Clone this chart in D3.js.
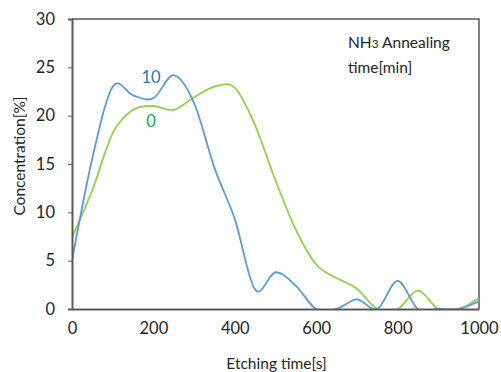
<!DOCTYPE html>
<html>
<head>
<meta charset="utf-8">
<script src="https://cdn.jsdelivr.net/npm/d3@7"></script>
<style>
  body { margin: 0; background: #fff; }
  text { font-family: Lato, "Open Sans", sans-serif; fill: #262626; }
</style>
</head>
<body>
<div id="chart"></div>
<script>
// etching time (s) and concentration (%)
var etchTime = [0, 50, 100, 150, 200, 250, 300, 350, 400, 450, 500,
                550, 600, 650, 700, 750, 800, 850, 900, 950, 1000];
var anneal10 = [5.0, 15.6, 23.0, 22.1, 21.8, 24.2, 21.3, 14.6, 9.3, 2.0, 3.8,
                2.4, 0, 0, 1.0, 0, 2.9, 0, 0, 0, 0.8];
var anneal0  = [7.4, 12.3, 18.2, 20.6, 21.0, 20.6, 21.9, 23.0, 22.9, 19.0, 13.3,
                8.2, 4.6, 3.2, 2.1, 0, 0, 1.9, 0, 0, 1.15];
var xTicks = [0, 200, 400, 600, 800, 1000];
var yTicks = [0, 5, 10, 15, 20, 25, 30];

function setup() {
    var margin = {top: 19, right: 22, bottom: 63, left: 72},
        width = 501 - margin.left - margin.right,
        height = 372 - margin.top - margin.bottom;

    var x = d3.scaleLinear().domain([0, 1000]).range([0, width]);
    var y = d3.scaleLinear().domain([0, 30]).range([height, 0]);

    var svg = d3.select("#chart").append("svg")
        .attr("width", 501)
        .attr("height", 372)
      .append("g")
        .attr("transform", "translate(" + margin.left + "," + margin.top + ")");

    svg.append("clipPath").attr("id", "plot")
      .append("rect").attr("width", width).attr("height", height);

    // frame (top and right)
    svg.append("path")
        .attr("d", "M0,0H" + width + "V" + height)
        .attr("fill", "none")
        .attr("stroke", "#595959")
        .attr("stroke-width", 1.5);

    var line = d3.line()
        .x(function(d) { return x(d[0]); })
        .y(function(d) { return y(d[1]); })
        .curve(d3.curveCatmullRom.alpha(0));

    var series = [
        {values: anneal0, color: "#92d050"},
        {values: anneal10, color: "#5b9bd5"}
    ];
    series.forEach(function(s) {
        svg.append("path")
            .datum(etchTime.map(function(t, i) { return [t, s.values[i]]; }))
            .attr("clip-path", "url(#plot)")
            .attr("fill", "none")
            .attr("stroke", s.color)
            .attr("stroke-width", 1.8)
            .attr("d", line);
    });

    // x axis
    var xAxis = svg.append("g")
        .attr("transform", "translate(0," + height + ")")
        .call(d3.axisBottom(x).tickValues(xTicks).tickFormat(d3.format("d"))
              .tickSize(0).tickPadding(13));
    xAxis.select(".domain").attr("stroke", "#595959").attr("stroke-width", 2);
    xAxis.selectAll("text").style("font-size", "16.5px").attr("fill", "#262626");

    // y axis
    var yAxis = svg.append("g")
        .call(d3.axisLeft(y).tickValues(yTicks).tickSizeOuter(0).tickSize(4).tickPadding(13));
    yAxis.select(".domain").attr("stroke", "#595959").attr("stroke-width", 2);
    yAxis.selectAll("line").attr("stroke", "#595959");
    yAxis.selectAll("text").style("font-size", "16.5px").attr("fill", "#262626");

    // axis titles
    svg.append("text")
        .attr("x", width / 2 + 1)
        .attr("y", height + 60)
        .attr("text-anchor", "middle")
        .style("font-size", "15.5px")
        .text("Etching time[s]");
    svg.append("text")
        .attr("transform", "translate(" + (-47) + "," + (height / 2 - 8) + ") rotate(-90)")
        .attr("text-anchor", "middle")
        .style("font-size", "15.5px")
        .text("Concentration[%]");

    // legend note
    var note = svg.append("text")
        .attr("x", 276)
        .attr("y", 29)
        .style("font-size", "15.5px");
    note.append("tspan").text("NH");
    note.append("tspan").style("font-size", "12px").text("3");
    note.append("tspan").text(" Annealing");
    svg.append("text")
        .attr("x", 276)
        .attr("y", 54)
        .style("font-size", "15.5px")
        .text("time[min]");

    // series labels
    svg.append("text")
        .attr("x", 79).attr("y", 64)
        .attr("text-anchor", "middle")
        .style("font-size", "16.5px")
        .style("fill", "#2e75b6")
        .text("10");
    svg.append("text")
        .attr("x", 79).attr("y", 108)
        .attr("text-anchor", "middle")
        .style("font-size", "16.5px")
        .style("fill", "#00b050")
        .text("0");
}

setup();
</script>
</body>
</html>
